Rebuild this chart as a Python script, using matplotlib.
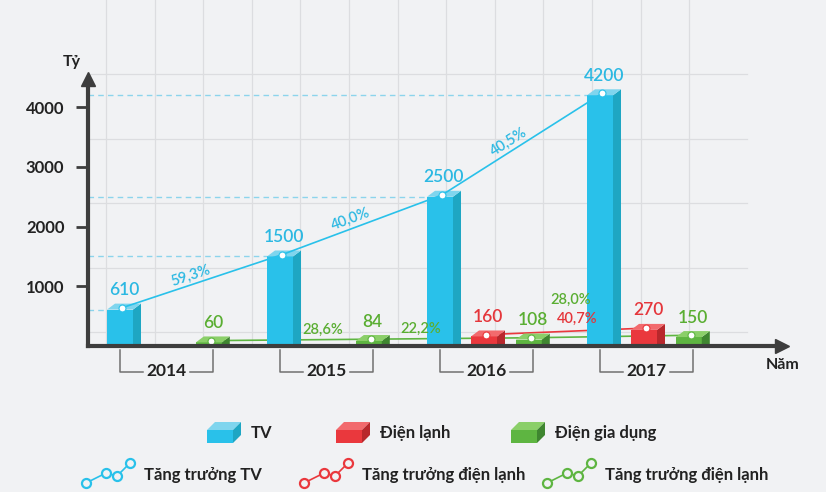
import math

import matplotlib.pyplot as plt
from matplotlib.patches import Polygon, Rectangle

# data
years = ["2014", "2015", "2016", "2017"]
tv = [610, 1500, 2500, 4200]
dien_lanh = [None, None, 160, 270]
gia_dung = [60, 84, 108, 150]
tv_growth = ["59,3%", "40,0%", "40,5%"]
lanh_growth = ["40,7%"]
gia_dung_growth = ["28,6%", "22,2%", "28,0%"]
y_ticks = [1000, 2000, 3000, 4000]
bar_names = ["TV", "Điện lạnh", "Điện gia dụng"]
line_names = ["Tăng trưởng TV", "Tăng trưởng điện lạnh", "Tăng trưởng điện lạnh"]

FONT = ["Lato", "Noto Sans", "DejaVu Sans"]
plt.rcParams["font.family"] = FONT

BG = "#F1F2F4"
DARK = "#3D3D3D"
# front, side, top, text
BLUE = ("#29C1EA", "#1EA6C3", "#7FD5EE", "#2BB8E2")
RED = ("#EA383D", "#B8282C", "#F26A6D", "#E5363B")
GREEN = ("#5EB541", "#3F8630", "#8BCF69", "#5AAE32")

W, H = 826, 492
X0, Y0 = 88, 346          # axis corner in pixels
PX_X, PX_Y = 160, 59.7    # pixels per group / per 1000

BW, BD, BDH = 0.1625, 0.05, 100   # bar front width, depth, top rise
OFFS = [0.0, 0.275, 0.555]

fig = plt.figure(figsize=(W / 100, H / 100), dpi=100, facecolor=BG)

# decoration layer in pixel coordinates
deco = fig.add_axes([0, 0, 1, 1], zorder=0)
deco.set_xlim(0, W)
deco.set_ylim(H, 0)
deco.axis("off")
for k in range(13):
    gx = 106 + 48.6 * k
    deco.plot([gx, gx], [0, Y0], color="#DCDDE0", lw=0.9)
for k in range(5):
    gy = 74 + 64.5 * k
    deco.plot([90, 747], [gy, gy], color="#DCDDE0", lw=0.9)

ax = fig.add_axes([X0 / W, (H - Y0) / H, (W - X0) / W, Y0 / H], zorder=1)
ax.patch.set_alpha(0)
ax.set_xlim(-(107 - X0) / PX_X, (W - 107) / PX_X)
ax.set_ylim(0, Y0 / PX_Y * 1000)
for s in ["top", "right"]:
    ax.spines[s].set_visible(False)
for s in ["left", "bottom"]:
    ax.spines[s].set_color(DARK)
    ax.spines[s].set_linewidth(3)
    ax.spines[s].set_zorder(6)
ax.spines["left"].set_bounds(0, 4430)
ax.spines["bottom"].set_bounds(ax.get_xlim()[0], 4.2)
ax.plot([0], [4470], marker="^", ms=10, color=DARK, transform=ax.get_yaxis_transform(),
        clip_on=False, zorder=6)
ax.plot([4.22], [0], marker=">", ms=10, color=DARK, transform=ax.get_xaxis_transform(),
        clip_on=False, zorder=6)

ax.set_xticks([])
ax.set_yticks(y_ticks)
ax.set_yticklabels([str(t) for t in y_ticks], fontsize=12, fontweight="bold", color="#222222")
ax.tick_params(axis="y", length=9, width=2, color=DARK, pad=8)


def bar3d(x, h, col, z=3):
    front, side, top, _ = col
    ax.add_patch(Rectangle((x, 0), BW, h, fc=front, ec="none", zorder=z))
    ax.add_patch(Polygon([(x + BW, 0), (x + BW + BD, 0), (x + BW + BD, h + BDH), (x + BW, h)],
                         fc=side, ec="none", zorder=z))
    ax.add_patch(Polygon([(x, h), (x + BW, h), (x + BW + BD, h + BDH), (x + BD, h + BDH)],
                         fc=top, ec="none", zorder=z))


series = [(tv, BLUE), (dien_lanh, RED), (gia_dung, GREEN)]
dots = []
for j, (vals, col) in enumerate(series):
    xs, ys = [], []
    for i, v in enumerate(vals):
        if v is None:
            continue
        x = i + OFFS[j]
        bar3d(x, v, col)
        ax.annotate(str(v), (x + (BW + BD) / 2, v), xytext=(0, 14), textcoords="offset points",
                    ha="center", va="center", fontsize=12.5, fontweight="semibold", color=col[3],
                    zorder=7)
        xs.append(x + BW / 2 + BD * 0.25)
        ys.append(v + BDH * 0.3)
    dots.append((xs, ys))

# dashed guides to the TV values
ax.hlines(tv, ax.get_xlim()[0], [i + OFFS[0] for i in range(len(tv))],
          colors="#8CD4EC", linestyles=(0, (4, 3)), lw=1, zorder=1)

# growth lines
for (xs, ys), col, z in zip(dots, [BLUE, RED, GREEN], [4, 1.5, 1.5]):
    ax.plot(xs, ys, color=col[0], lw=1.2, zorder=z)
    ax.plot(xs, ys, ls="none", marker="o", ms=5, mfc="white", mec=col[0], mew=0.8, zorder=5)


def seg_label(xs, ys, k, text, col, t, off, rotate):
    px = xs[k] + t * (xs[k + 1] - xs[k])
    py = ys[k] + t * (ys[k + 1] - ys[k])
    a = 0.0
    if rotate:
        p0 = ax.transData.transform((xs[k], ys[k]))
        p1 = ax.transData.transform((xs[k + 1], ys[k + 1]))
        a = math.degrees(math.atan2(p1[1] - p0[1], p1[0] - p0[0]))
    ox = -math.sin(math.radians(a)) * off
    oy = math.cos(math.radians(a)) * off
    ax.annotate(text, (px, py), xytext=(ox, oy), textcoords="offset points", ha="center",
                va="center", rotation=a, rotation_mode="anchor", fontsize=10.5,
                fontweight="semibold", color=col, zorder=7)


for k, txt in enumerate(tv_growth):
    seg_label(*dots[0], k, txt, BLUE[3], 0.45, 6.5, True)
for k, (txt, t, off) in enumerate(zip(lanh_growth, [0.57], [9])):
    seg_label(*dots[1], k, txt, RED[3], t, off, False)
for k, (txt, t, off) in enumerate(zip(gia_dung_growth, [0.7, 0.31, 0.25], [7, 7, 27])):
    seg_label(*dots[2], k, txt, GREEN[3], t, off, False)

# year brackets under each group
for i, yr in enumerate(years):
    left = i + OFFS[0] + BW / 2
    right = i + OFFS[2] + BW / 2 + BD / 2
    mid = (left + right) / 2
    yt, yb = -70, -435
    kw = dict(color="#707070", lw=1.1, clip_on=False, zorder=2)
    ax.plot([left, left, mid - 0.145], [yt, yb, yb], **kw)
    ax.plot([mid + 0.145, right, right], [yb, yb, yt], **kw)
    ax.text(mid, yb + 15, yr, ha="center", va="center", fontsize=12.5, fontweight="bold",
            color="#222222", clip_on=False)

deco.text(72, 62, "Tỷ", ha="center", va="center", fontsize=11.5, fontweight="bold", color="#222222")
deco.text(783, 365, "Năm", ha="center", va="center", fontsize=11.5, fontweight="bold", color="#222222")

# legend: cubes
for bx, name, col in zip([207, 336, 511], bar_names, [BLUE, RED, GREEN]):
    yf = 430
    deco.add_patch(Polygon([(bx, yf), (bx + 26, yf), (bx + 26, yf + 13), (bx, yf + 13)],
                           fc=col[0], ec="none"))
    deco.add_patch(Polygon([(bx, yf), (bx + 8, yf - 8), (bx + 34, yf - 8), (bx + 26, yf)],
                           fc=col[2], ec="none"))
    deco.add_patch(Polygon([(bx + 26, yf), (bx + 34, yf - 8), (bx + 34, yf + 5), (bx + 26, yf + 13)],
                           fc=col[1], ec="none"))
    deco.text(bx + 44, 433, name, ha="left", va="center", fontsize=12, fontweight="bold",
              color="#222222")

# legend: growth line icons
icon_dx = [0, 20, 31, 44]
icon_dy = [0, -10, -7, -20]
for lx, name, col in zip([86, 304, 547], line_names, [BLUE, RED, GREEN]):
    ix = [lx + d for d in icon_dx]
    iy = [483 + d for d in icon_dy]
    deco.plot(ix, iy, color=col[0], lw=1.2, marker="o", ms=6.5, mfc=BG, mec=col[0], mew=1.6)
    deco.text(lx + 58, 475, name, ha="left", va="center", fontsize=12, fontweight="bold",
              color="#222222")

fig.savefig("out.png", dpi=100, facecolor=BG)
